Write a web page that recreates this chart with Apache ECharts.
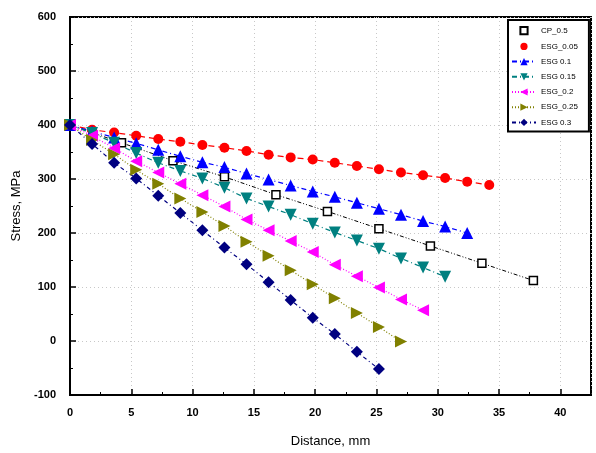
<!DOCTYPE html>
<html>
<head>
<meta charset="utf-8">
<script src="https://cdn.jsdelivr.net/npm/echarts@6/dist/echarts.min.js"></script>
<style>
  html, body { margin: 0; padding: 0; background: #fff; }
  #main { width: 596px; height: 453px; }
</style>
</head>
<body>
<div id="main"></div>
<script>
// distances (mm) where the points were taken
var cpX = [0, 4.2, 8.4, 12.6, 16.8, 21, 25.2, 29.4, 33.6, 37.8];
var esgX = [0, 1.8, 3.6, 5.4, 7.2, 9, 10.8, 12.6, 14.4, 16.2, 18, 19.8, 21.6, 23.4, 25.2, 27, 28.8, 30.6, 32.4, 34.2];

// stress values, MPa
var cp05 = [400, 367, 334, 304, 271, 240, 208, 176, 144, 112];
var esg005 = [400, 391, 386, 380, 374, 369, 363, 358, 352, 345, 340, 336, 330, 324, 318, 312, 307, 302, 295, 289];
var esg01 = [400, 388, 377, 366, 354, 342, 331, 322, 310, 299, 288, 277, 267, 256, 245, 234, 222, 212, 200];
var esg015 = [400, 385, 367, 348, 330, 315, 301, 284, 264, 249, 234, 217, 201, 186, 171, 153, 136, 119];
var esg02 = [400, 380, 357, 333, 312, 291, 270, 249, 225, 205, 185, 165, 141, 120, 99, 77, 57];
var esg025 = [400, 372, 346, 317, 291, 264, 239, 213, 184, 158, 131, 105, 79, 52, 26, -1];
var esg03 = [400, 365, 330, 301, 269, 237, 205, 173, 142, 109, 76, 43, 13, -20, -52];

var names = ['CP_0.5', 'ESG_0.05', 'ESG 0.1', 'ESG 0.15', 'ESG_0.2', 'ESG_0.25', 'ESG 0.3'];

function pairs(xs, ys) {
  return ys.map(function (y, i) { return [xs[i], y]; });
}

var chart = echarts.init(document.getElementById('main'));

var labelFont = { color: '#000', fontFamily: 'Liberation Sans', fontWeight: 'bold', fontSize: 11 };

var option = {
  animation: false,
  backgroundColor: '#fff',
  grid: {
    left: 70, right: 5, top: 17, bottom: 48,
    show: true, borderColor: '#000', borderWidth: 2
  },
  legend: {
    orient: 'vertical',
    left: 508, top: 20,
    padding: [6, 11, 5, 3],
    itemWidth: 24, itemHeight: 9, itemGap: 7.2,
    backgroundColor: '#fff',
    borderColor: '#000', borderWidth: 2,
    lineStyle: { width: 2 },
    textStyle: { fontFamily: 'Liberation Sans', fontSize: 8, color: '#000' },
    data: [
      { name: names[0], lineStyle: { opacity: 0 } },
      { name: names[1], lineStyle: { opacity: 0 } },
      names[2], names[3], names[4], names[5], names[6]
    ]
  },
  xAxis: {
    type: 'value',
    min: 0, max: 42.5, interval: 5,
    name: 'Distance, mm',
    nameLocation: 'middle',
    nameGap: 40,
    nameTextStyle: { fontFamily: 'Liberation Sans', fontSize: 13, color: '#000' },
    axisLine: { onZero: false, lineStyle: { color: '#000', width: 2 } },
    axisTick: { inside: true, length: 6, lineStyle: { color: '#000', width: 1.5 } },
    minorTick: { show: true, splitNumber: 2, length: 3, lineStyle: { color: '#000', width: 1 } },
    axisLabel: Object.assign({ margin: 12, showMaxLabel: false }, labelFont),
    splitLine: { show: true, lineStyle: { color: '#c8c8c8', type: [1, 3], width: 1 } }
  },
  yAxis: {
    type: 'value',
    min: -100, max: 600, interval: 100,
    name: 'Stress, MPa',
    nameLocation: 'middle',
    nameGap: 44,
    nameTextStyle: { fontFamily: 'Liberation Sans', fontSize: 13, color: '#000' },
    axisLine: { onZero: false, lineStyle: { color: '#000', width: 2 } },
    axisTick: { inside: true, length: 6, lineStyle: { color: '#000', width: 1.5 } },
    minorTick: { show: true, splitNumber: 2, length: 3, lineStyle: { color: '#000', width: 1 } },
    axisLabel: Object.assign({ margin: 14 }, labelFont),
    splitLine: { show: true, lineStyle: { color: '#c8c8c8', type: [1, 3], width: 1 } }
  },
  series: [
    {
      name: names[0], type: 'line', data: pairs(cpX, cp05),
      symbol: 'rect', symbolSize: 8,
      itemStyle: { color: '#fff', borderColor: '#000', borderWidth: 1.5 },
      lineStyle: { color: '#000', width: 1, type: [4, 2, 1, 2, 1, 2] }
    },
    {
      name: names[1], type: 'line', data: pairs(esgX, esg005),
      symbol: 'circle', symbolSize: 10,
      itemStyle: { color: '#ff0000' },
      lineStyle: { color: '#ff0000', width: 1.2, type: [6, 4] }
    },
    {
      name: names[2], type: 'line', data: pairs(esgX, esg01),
      symbol: 'triangle', symbolSize: 12,
      itemStyle: { color: '#0000ff' },
      lineStyle: { color: '#0000ff', width: 1.2, type: [5, 3, 1, 3] }
    },
    {
      name: names[3], type: 'line', data: pairs(esgX, esg015),
      symbol: 'triangle', symbolRotate: 180, symbolSize: 12,
      itemStyle: { color: '#008080' },
      lineStyle: { color: '#008080', width: 1.2, type: [5, 3, 1, 3] }
    },
    {
      name: names[4], type: 'line', data: pairs(esgX, esg02),
      symbol: 'triangle', symbolRotate: 90, symbolSize: 12,
      itemStyle: { color: '#ff00ff' },
      lineStyle: { color: '#ff00ff', width: 1.2, type: [1, 2] }
    },
    {
      name: names[5], type: 'line', data: pairs(esgX, esg025),
      symbol: 'triangle', symbolRotate: -90, symbolSize: 12,
      itemStyle: { color: '#808000' },
      lineStyle: { color: '#808000', width: 1.2, type: [1, 2] }
    },
    {
      name: names[6], type: 'line', data: pairs(esgX, esg03),
      symbol: 'diamond', symbolSize: 12,
      itemStyle: { color: '#000080' },
      lineStyle: { color: '#000080', width: 1.2, type: [4, 3, 1, 3] }
    }
  ]
};

chart.setOption(option);
</script>
</body>
</html>
